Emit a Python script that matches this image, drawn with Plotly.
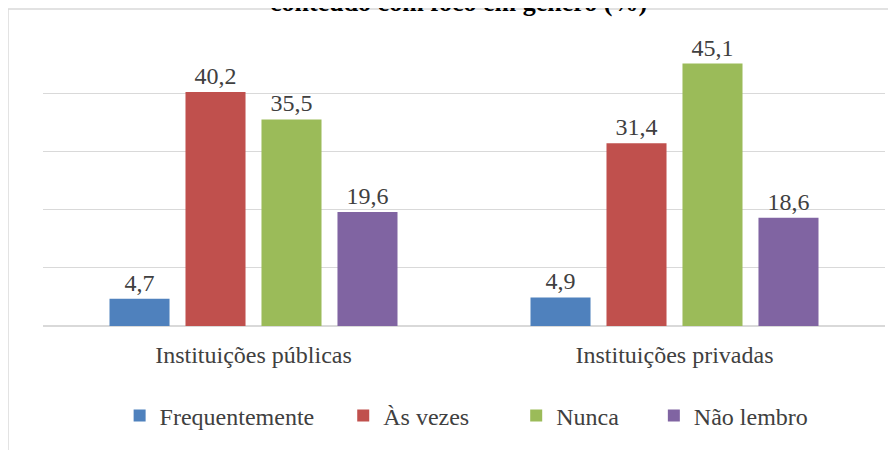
import plotly.graph_objects as go

categories = ["Instituições públicas", "Instituições privadas"]
series_names = ["Frequentemente", "Às vezes", "Nunca", "Não lembro"]
frequentemente = [4.7, 4.9]
as_vezes = [40.2, 31.4]
nunca = [35.5, 45.1]
nao_lembro = [19.6, 18.6]
title_text = "conteúdo com foco em gênero (%)"

colors = ["#4f81bd", "#c0504d", "#9bbb59", "#8064a2"]
values = [frequentemente, as_vezes, nunca, nao_lembro]
pads = [4, 7, 5, 0]

FONT = "Liberation Serif, Times New Roman, serif"
fig = go.Figure()
for name, vals, col, pad in zip(series_names, values, colors, pads):
    fig.add_trace(go.Bar(
        x=categories, y=vals, name=name + "\u00a0" * pad,
        marker=dict(color=col, line=dict(width=0)),
        texttemplate="%{y:.1f}", textposition="outside",
        textfont=dict(family=FONT, size=24, color="#404040"),
        cliponaxis=False,
    ))

fig.update_layout(
    width=888, height=442,
    margin=dict(l=35, r=11, t=27, b=124),
    paper_bgcolor="white", plot_bgcolor="white",
    separators=",.",
    barmode="group", bargap=0.278, bargroupgap=0.21,
    showlegend=True,
    legend=dict(orientation="h", x=0.091, xanchor="left", y=-0.309, yanchor="middle",
                font=dict(family=FONT, size=24, color="#404040"),
                itemwidth=30, traceorder="normal", bgcolor="rgba(0,0,0,0)"),
    yaxis=dict(range=[0, 50], dtick=10, showticklabels=False, showgrid=True,
               gridcolor="#d9d9d9", gridwidth=1, zeroline=True, zerolinecolor="#d9d9d9",
               showline=False, fixedrange=True),
    xaxis=dict(showline=False, ticks="", ticklabelstandoff=12,
               tickfont=dict(family=FONT, size=24, color="#404040")),
    annotations=[dict(text="<b>" + title_text + "</b>", xref="paper", yref="paper",
                      x=0.493, y=1.111, xanchor="center", yanchor="middle", showarrow=False,
                      font=dict(family=FONT, size=26, color="#000000"))],
    shapes=[dict(type="rect", xref="paper", yref="paper",
                 x0=-0.0416, x1=1.1, y0=-0.5, y1=1.089,
                 line=dict(color="#d9d9d9", width=1.5), fillcolor="rgba(0,0,0,0)", layer="below")],
)

fig.write_html("out.html")
